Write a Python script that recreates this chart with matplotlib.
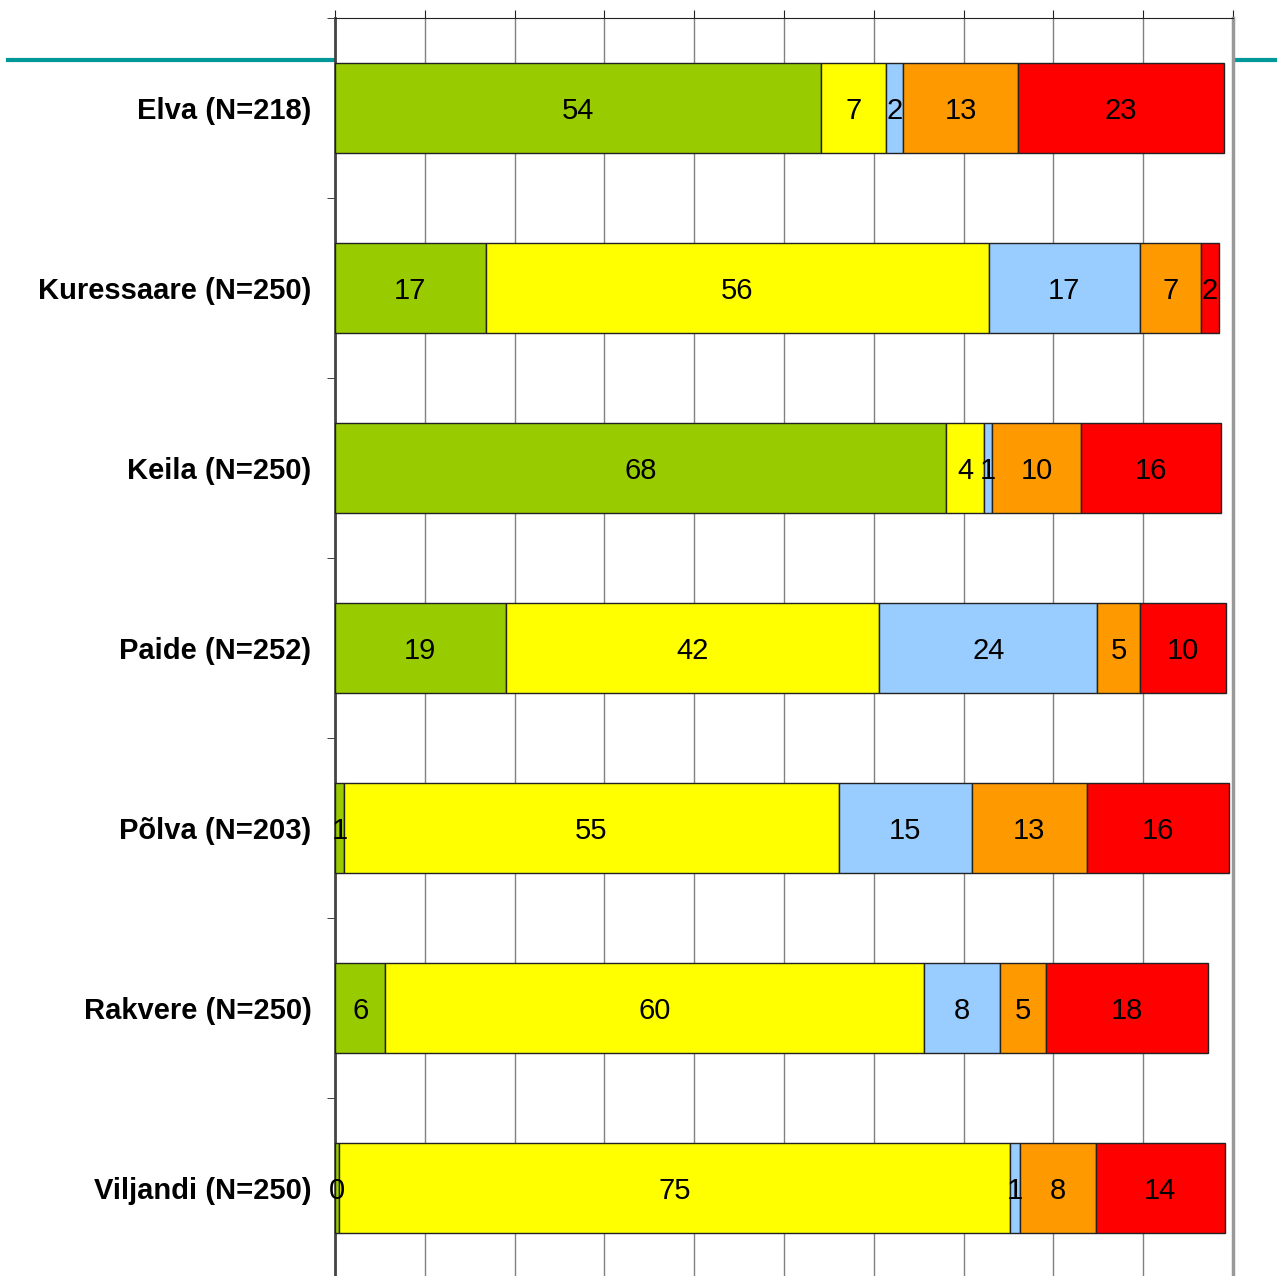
import matplotlib
matplotlib.use("Agg")
import matplotlib.pyplot as plt
from matplotlib.lines import Line2D
import numpy as np

plt.rcParams['font.family'] = ['Liberation Sans', 'DejaVu Sans']

# Data (percentages)
towns = ['Elva (N=218)', 'Kuressaare (N=250)', 'Keila (N=250)', 'Paide (N=252)',
         'Põlva (N=203)', 'Rakvere (N=250)', 'Viljandi (N=250)']
green = [54.1, 16.8, 68.0, 19.0, 1.0, 5.6, 0.4]
yellow = [7.3, 56.0, 4.3, 41.6, 55.1, 60.0, 74.8]
blue = [1.9, 16.8, 0.9, 24.3, 14.8, 8.4, 1.1]
orange = [12.8, 6.8, 9.9, 4.7, 12.8, 5.2, 8.4]
red = [22.9, 2.0, 15.6, 9.6, 15.8, 18.0, 14.4]

series = [green, yellow, blue, orange, red]
colors = ['#99CC00', '#FFFF00', '#99CCFF', '#FF9900', '#FF0000']

W, H = 1277, 1276
fig = plt.figure(figsize=(W / 100, H / 100), dpi=100)
ax = fig.add_axes([335 / W, -2 / H, (1233 - 335) / W, (1276 - 18 + 2) / H])

# teal decoration line behind the plot
fig.add_artist(Line2D([8 / W, 335 / W], [1 - 60 / H] * 2, color='#009999', lw=3, zorder=0))
fig.add_artist(Line2D([1235 / W, 1.0], [1 - 60 / H] * 2, color='#009999', lw=3, zorder=0))

y = np.arange(len(towns))
left = np.zeros(len(towns))
for vals, c in zip(series, colors):
    vals = np.array(vals)
    ax.barh(y, vals, left=left, height=0.5, color=c, edgecolor='#222222', linewidth=1, zorder=3)
    for yi, l, v in zip(y, left, vals):
        ax.text(l + v / 2, yi, f'{v:.0f}', ha='center', va='center_baseline', fontsize=21, zorder=4)
    left += vals

ax.set_xlim(0, 100)
ax.set_ylim(len(towns) - 0.5, -0.5)

ax.set_xticks(np.arange(0, 101, 10))
ax.xaxis.tick_top()
ax.tick_params(axis='x', direction='out', length=6, labeltop=False, labelbottom=False, color='#222222')
ax.grid(axis='x', color='#808080', linewidth=1, zorder=0)

ax.set_yticks(y)
ax.set_yticklabels(towns, fontsize=21, fontweight='bold')
ax.tick_params(axis='y', length=0, pad=17)
ax.set_yticks(np.arange(-0.5, len(towns), 1), minor=True)
ax.tick_params(axis='y', which='minor', length=6, direction='out', color='#222222')

ax.spines['top'].set_color('#222222')
ax.spines['left'].set_color('#444444')
ax.spines['left'].set_linewidth(2)
ax.spines['right'].set_color('#999999')
ax.spines['right'].set_linewidth(2.5)
ax.spines['bottom'].set_visible(False)

fig.savefig('out.png', dpi=100)
